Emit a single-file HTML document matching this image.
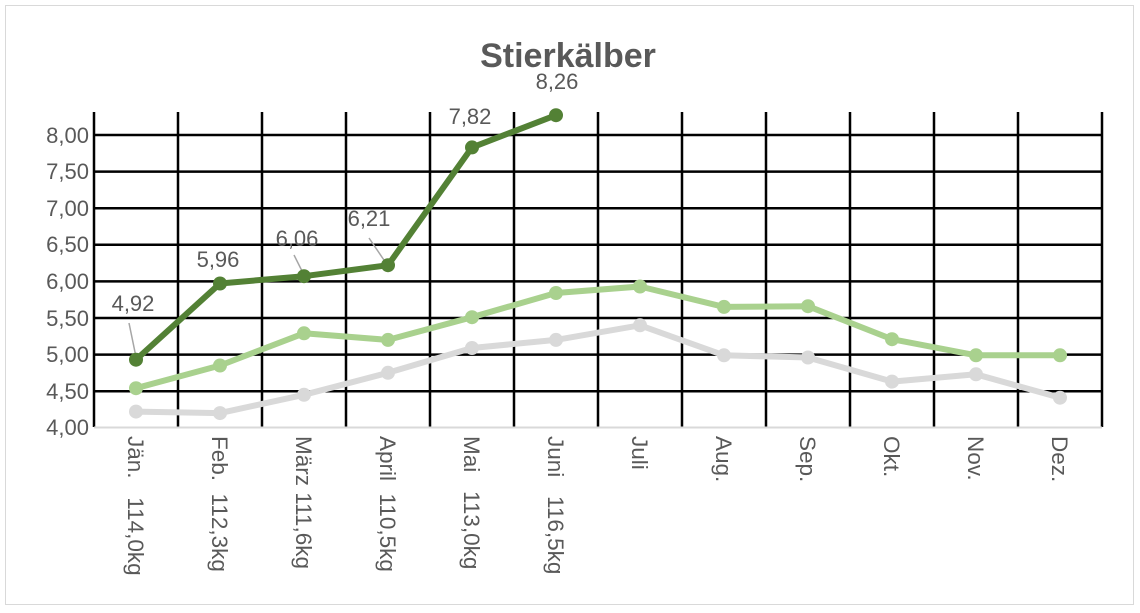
<!DOCTYPE html>
<html><head><meta charset="utf-8"><style>
html,body{margin:0;padding:0;background:#fff}
svg{display:block}
text{font-family:"Liberation Sans",sans-serif;fill:#595959;white-space:pre}
</style></head><body>
<svg width="1140" height="613" viewBox="0 0 1140 613" xmlns="http://www.w3.org/2000/svg">
<rect x="5.5" y="5.5" width="1128" height="599" fill="#fff" stroke="#d9d9d9" stroke-width="1"/>
<text x="568" y="67" font-size="34" font-weight="bold" text-anchor="middle">Stierkälber</text>
<g stroke="#000" stroke-width="2.5">
<line x1="94" y1="135" x2="1102" y2="135"/>
<line x1="94" y1="171.6" x2="1102" y2="171.6"/>
<line x1="94" y1="208.2" x2="1102" y2="208.2"/>
<line x1="94" y1="244.8" x2="1102" y2="244.8"/>
<line x1="94" y1="281.4" x2="1102" y2="281.4"/>
<line x1="94" y1="318" x2="1102" y2="318"/>
<line x1="94" y1="354.6" x2="1102" y2="354.6"/>
<line x1="94" y1="391.2" x2="1102" y2="391.2"/>
<line x1="94" y1="112" x2="94" y2="427"/>
<line x1="178" y1="112" x2="178" y2="427"/>
<line x1="262" y1="112" x2="262" y2="427"/>
<line x1="346" y1="112" x2="346" y2="427"/>
<line x1="430" y1="112" x2="430" y2="427"/>
<line x1="514" y1="112" x2="514" y2="427"/>
<line x1="598" y1="112" x2="598" y2="427"/>
<line x1="682" y1="112" x2="682" y2="427"/>
<line x1="766" y1="112" x2="766" y2="427"/>
<line x1="850" y1="112" x2="850" y2="427"/>
<line x1="934" y1="112" x2="934" y2="427"/>
<line x1="1018" y1="112" x2="1018" y2="427"/>
<line x1="1102" y1="112" x2="1102" y2="427"/>
</g>
<line x1="94" y1="427.5" x2="1102" y2="427.5" stroke="#d9d9d9" stroke-width="2"/>
<g font-size="22" text-anchor="end">
<text x="89" y="143">8,00</text><text x="89" y="179">7,50</text><text x="89" y="216">7,00</text>
<text x="89" y="252">6,50</text><text x="89" y="289">6,00</text><text x="89" y="326">5,50</text>
<text x="89" y="362">5,00</text><text x="89" y="399">4,50</text><text x="89" y="435">4,00</text>
</g>
<polyline fill="none" stroke="#d9d9d9" stroke-width="6" stroke-linejoin="round" points="136,411.6 220,413.1 304,394.8 388,372.8 472,348 556,339.9 640,325.3 724,355.3 808,357.5 892,381.6 976,374.3 1060,397.7"/>
<g fill="#d9d9d9"><circle cx="136" cy="411.6" r="7"/><circle cx="220" cy="413.1" r="7"/><circle cx="304" cy="394.8" r="7"/><circle cx="388" cy="372.8" r="7"/><circle cx="472" cy="348" r="7"/><circle cx="556" cy="339.9" r="7"/><circle cx="640" cy="325.3" r="7"/><circle cx="724" cy="355.3" r="7"/><circle cx="808" cy="357.5" r="7"/><circle cx="892" cy="381.6" r="7"/><circle cx="976" cy="374.3" r="7"/><circle cx="1060" cy="397.7" r="7"/></g>
<polyline fill="none" stroke="#a9d18e" stroke-width="6" stroke-linejoin="round" points="136,388.2 220,365.5 304,333.3 388,339.9 472,317.2 556,293 640,286.5 724,306.9 808,306.2 892,339.2 976,355.3 1060,355.3"/>
<g fill="#a9d18e"><circle cx="136" cy="388.2" r="7"/><circle cx="220" cy="365.5" r="7"/><circle cx="304" cy="333.3" r="7"/><circle cx="388" cy="339.9" r="7"/><circle cx="472" cy="317.2" r="7"/><circle cx="556" cy="293" r="7"/><circle cx="640" cy="286.5" r="7"/><circle cx="724" cy="306.9" r="7"/><circle cx="808" cy="306.2" r="7"/><circle cx="892" cy="339.2" r="7"/><circle cx="976" cy="355.3" r="7"/><circle cx="1060" cy="355.3" r="7"/></g>
<g stroke="#a6a6a6" stroke-width="1.5">
<line x1="129" y1="323" x2="136" y2="357"/>
<line x1="294" y1="255" x2="304" y2="275"/>
<line x1="369" y1="238" x2="386" y2="263"/>
</g>
<polyline fill="none" stroke="#538135" stroke-width="6" stroke-linejoin="round" points="136,359.7 220,283.5 304,276.2 388,265.2 472,147.4 556,115.2"/>
<g fill="#538135"><circle cx="136" cy="359.7" r="7"/><circle cx="220" cy="283.5" r="7"/><circle cx="304" cy="276.2" r="7"/><circle cx="388" cy="265.2" r="7"/><circle cx="472" cy="147.4" r="7"/><circle cx="556" cy="115.2" r="7"/></g>
<g font-size="22" fill="#404040" text-anchor="middle">
<text x="133" y="311">4,92</text><text x="218" y="267">5,96</text><text x="297" y="246">6,06</text>
<text x="369" y="226">6,21</text><text x="470" y="124">7,82</text><text x="557" y="89">8,26</text>
</g>
<g font-size="22.5">
<text transform="translate(128,436) rotate(90)">Jän.   114,0kg</text>
<text transform="translate(212,436) rotate(90)">Feb.  112,3kg</text>
<text transform="translate(296,436) rotate(90)">März 111,6kg</text>
<text transform="translate(380,436) rotate(90)">April  110,5kg</text>
<text transform="translate(464,436) rotate(90)">Mai   113,0kg</text>
<text transform="translate(548,436) rotate(90)">Juni   116,5kg</text>
<text transform="translate(632,436) rotate(90)">Juli</text>
<text transform="translate(716,436) rotate(90)">Aug.</text>
<text transform="translate(800,436) rotate(90)">Sep.</text>
<text transform="translate(884,436) rotate(90)">Okt.</text>
<text transform="translate(968,436) rotate(90)">Nov.</text>
<text transform="translate(1052,436) rotate(90)">Dez.</text>
</g>
</svg>
</body></html>
